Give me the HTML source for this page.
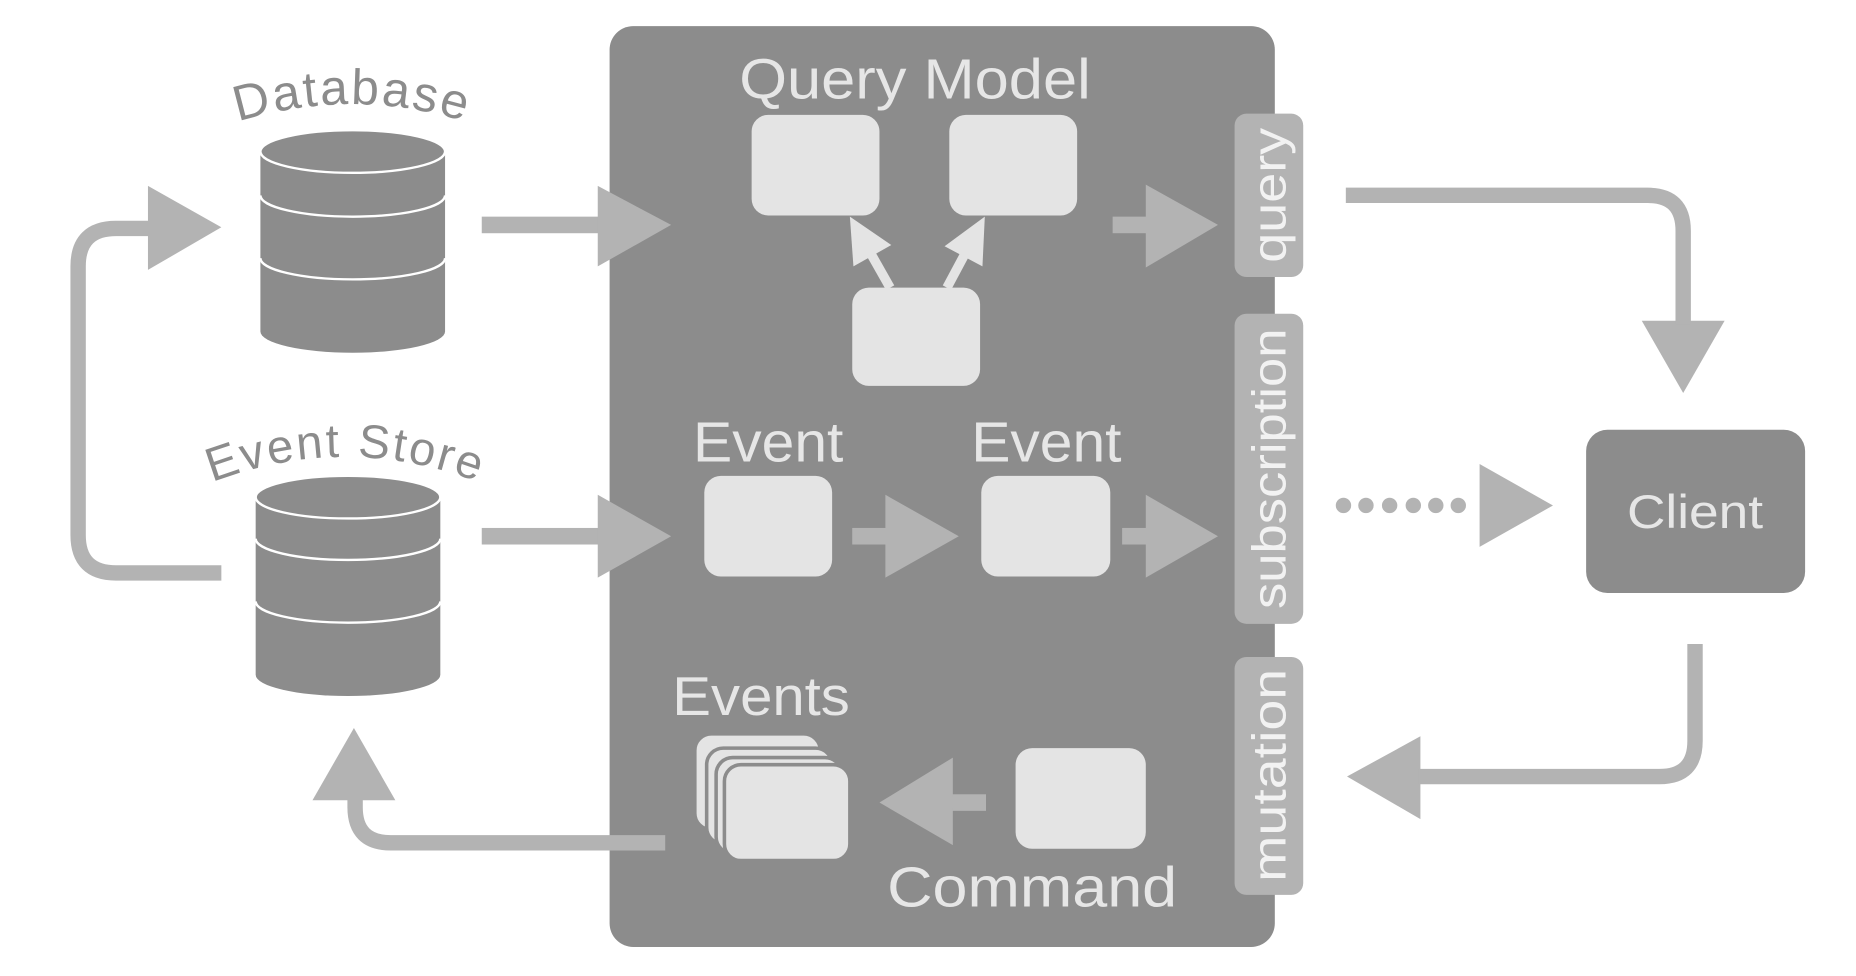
<!DOCTYPE html>
<html><head><style>html,body{margin:0;padding:0;background:#fff;}svg{display:block}</style></head>
<body>
<svg width="1856" height="976" viewBox="0 0 1568 824.5" xmlns="http://www.w3.org/2000/svg" font-family="'Liberation Sans', sans-serif">
<defs>
<path id="arcDb" d="M180,110 Q297,66 415,110"/>
<path id="arcEs" d="M168,412 Q292,360 416,412"/>
</defs>
<rect x="0" y="0" width="1568" height="825" fill="#fff"/>
<!-- main panel -->
<rect x="515" y="22" width="562" height="778" rx="20" fill="#8c8c8c"/>

<!-- side tabs -->
<rect x="1043" y="96" width="58" height="138" rx="10" fill="#b3b3b3"/>
<rect x="1043" y="265" width="58" height="262" rx="10" fill="#b3b3b3"/>
<rect x="1043" y="555" width="58" height="201" rx="10" fill="#b3b3b3"/>
<text transform="translate(1086,165) rotate(-90)" text-anchor="middle" font-size="40" fill="#f2f2f2" textLength="114" lengthAdjust="spacingAndGlyphs">query</text>
<text transform="translate(1086,396) rotate(-90)" text-anchor="middle" font-size="40" fill="#f2f2f2" textLength="237" lengthAdjust="spacingAndGlyphs">subscription</text>
<text transform="translate(1086,655) rotate(-90)" text-anchor="middle" font-size="40" fill="#f2f2f2" textLength="180" lengthAdjust="spacingAndGlyphs">mutation</text>

<!-- labels in panel -->
<g fill="#e6e6e6" text-anchor="middle" lengthAdjust="spacingAndGlyphs">
<text x="773" y="83" font-size="48" textLength="297" lengthAdjust="spacingAndGlyphs">Query Model</text>
<text x="649" y="390" font-size="48" textLength="127" lengthAdjust="spacingAndGlyphs">Event</text>
<text x="884" y="390" font-size="48" textLength="127" lengthAdjust="spacingAndGlyphs">Event</text>
<text x="643" y="604" font-size="46" textLength="150" lengthAdjust="spacingAndGlyphs">Events</text>
<text x="872" y="766" font-size="48" textLength="245" lengthAdjust="spacingAndGlyphs">Command</text>
</g>

<!-- boxes -->
<g fill="#e4e4e4">
<rect x="635" y="97" width="108" height="85" rx="14"/>
<rect x="802" y="97" width="108" height="85" rx="14"/>
<rect x="720" y="243" width="108" height="83" rx="14"/>
<rect x="595" y="402" width="108" height="85" rx="14"/>
<rect x="829" y="402" width="109" height="85" rx="14"/>
<rect x="858" y="632" width="110" height="85" rx="14"/>
</g>
<g fill="#e4e4e4" stroke="#8c8c8c" stroke-width="3">
<rect x="587" y="620" width="106" height="81" rx="14"/>
<rect x="597" y="632" width="106" height="81" rx="14"/>
<rect x="605" y="640" width="106" height="81" rx="14"/>
<rect x="612" y="646" width="106" height="81" rx="14"/>
</g>

<!-- internal light arrows -->
<g stroke="#e4e4e4" stroke-width="8" fill="none">
<line x1="752" y1="243" x2="735" y2="213"/>
<line x1="800" y1="243" x2="816" y2="213"/>
</g>
<g fill="#e4e4e4">
<polygon points="718,183 753,207 721,225"/>
<polygon points="832,183 830,225 798,208"/>
</g>

<!-- block arrows -->
<g fill="#b3b3b3">
<rect x="407" y="183" width="100" height="14"/>
<polygon points="505,157 567,190 505,225"/>
<rect x="940" y="183" width="30" height="14"/>
<polygon points="968,156 1029,190 968,226"/>
<rect x="407" y="446" width="100" height="14"/>
<polygon points="505,418 567,453 505,488"/>
<rect x="720" y="446" width="30" height="14"/>
<polygon points="748,418 810,453 748,488"/>
<rect x="948" y="446" width="22" height="14"/>
<polygon points="968,418 1029,453 968,488"/>
<polygon points="125,157 187,192 125,228"/>
<polygon points="1387,271 1422,332 1457,271"/>
<polygon points="1200,622 1138,656 1200,692"/>
<rect x="803" y="671" width="30" height="14"/>
<polygon points="805,640 743,678 805,714"/>
<polygon points="264,676 299,615 334,676"/>
<polygon points="1250,392 1312,427 1250,462"/>
<circle cx="1135" cy="427" r="6.5"/>
<circle cx="1154" cy="427" r="6.5"/>
<circle cx="1174" cy="427" r="6.5"/>
<circle cx="1194" cy="427" r="6.5"/>
<circle cx="1213" cy="427" r="6.5"/>
<circle cx="1232" cy="427" r="6.5"/>
</g>
<g stroke="#b3b3b3" stroke-width="13" fill="none">
<path d="M187,484 H98 Q66,484 66,452 V225 Q66,193 98,193 H127"/>
<path d="M1137,165 H1392 Q1422,165 1422,195 V274"/>
<path d="M1432,544 V626 Q1432,656 1402,656 H1198"/>
<path d="M562,712 H330 Q300,712 300,682 V674"/>
</g>

<!-- client -->
<rect x="1340" y="363" width="185" height="138" rx="18" fill="#8c8c8c"/>
<text x="1432" y="446" text-anchor="middle" font-size="40" fill="#e6e6e6" textLength="115" lengthAdjust="spacingAndGlyphs">Client</text>

<!-- cylinders -->
<g fill="#8c8c8c" stroke="#fff" stroke-width="2">
<path d="M220,128 V280 A78,18 0 0 0 376,280 V128 Z" stroke="none"/>
<ellipse cx="298" cy="128" rx="78" ry="18"/>
<path d="M220,165 A78,18 0 0 0 376,165" fill="none"/>
<path d="M220,218 A78,18 0 0 0 376,218" fill="none"/>
<path d="M216,420 V570 A78,18 0 0 0 372,570 V420 Z" stroke="none"/>
<ellipse cx="294" cy="420" rx="78" ry="18"/>
<path d="M216,455 A78,18 0 0 0 372,455" fill="none"/>
<path d="M216,508 A78,18 0 0 0 372,508" fill="none"/>
</g>
<text font-size="42" fill="#8c8c8c" text-anchor="middle" letter-spacing="2"><textPath href="#arcDb" startOffset="50%">Database</textPath></text>
<text font-size="40" fill="#8c8c8c" text-anchor="middle" letter-spacing="2"><textPath href="#arcEs" startOffset="50%">Event Store</textPath></text>
</svg>
</body></html>
